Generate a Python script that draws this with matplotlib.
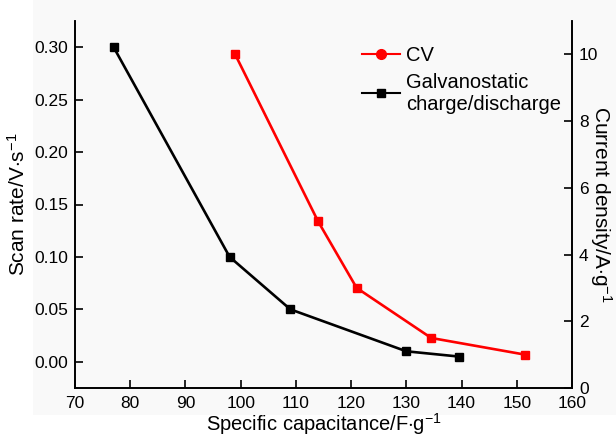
import matplotlib
matplotlib.use("Agg")
import matplotlib.pyplot as plt
from matplotlib.lines import Line2D
from matplotlib.patches import Rectangle

plt.rcParams['font.family'] = ['Liberation Sans', 'DejaVu Sans']
plt.rcParams['mathtext.fontset'] = 'custom'
plt.rcParams['mathtext.rm'] = 'Liberation Sans'
plt.rcParams['mathtext.it'] = 'Liberation Sans:italic'

# Data
gcd_capacitance = [77, 98, 109, 130, 139.5]
gcd_scan_axis_values = [0.30, 0.10, 0.05, 0.010, 0.005]  # plotted on left axis
cv_capacitance = [99, 114, 121, 134.5, 151.5]
cv_values = [10, 5, 3, 1.5, 1]  # plotted on right axis

x_ticks = [70, 80, 90, 100, 110, 120, 130, 140, 150, 160]
left_ticks = [0.00, 0.05, 0.10, 0.15, 0.20, 0.25, 0.30]
right_ticks = [0, 2, 4, 6, 8, 10]

fig = plt.figure(figsize=(6.16, 4.38), dpi=100, facecolor='white')
fig.patches.append(Rectangle((33/616, 1-415/438), 1-33/616, 415/438,
                             transform=fig.transFigure, facecolor='#f9f9f9',
                             edgecolor='none', zorder=-10))
ax = fig.add_axes([75/616, 1-388/438, (572-75)/616, (388-21)/438])
ax.set_facecolor('none')
ax2 = ax.twinx()

ax.plot(gcd_capacitance, gcd_scan_axis_values, color='black', lw=1.9,
        marker='s', ms=5.5, zorder=3)
ax2.plot(cv_capacitance, cv_values, color='#ff0000', lw=1.9,
         marker='s', ms=5.5, zorder=3)

ax.set_xlim(70, 160)
ax.set_ylim(-0.025, 0.325)
ax2.set_ylim(0, 11)
ax.set_xticks(x_ticks)
ax.set_yticks(left_ticks)
ax.set_yticklabels([f"{v:.2f}" for v in left_ticks])
ax2.set_yticks(right_ticks)

for a in (ax, ax2):
    a.spines['top'].set_visible(False)
    for s in a.spines.values():
        s.set_linewidth(1.2)
ax.tick_params(direction='in', length=6, width=1.2, labelsize=12.5, pad=5)
ax.tick_params(axis='x', pad=6)
ax2.tick_params(direction='in', length=6, width=1.2, labelsize=12.5, pad=5)

ax.set_xlabel(r'Specific capacitance/F$\cdot$g$^{-1}$', fontsize=14.5, labelpad=0)
ax.set_ylabel(r'Scan rate/V$\cdot$s$^{-1}$', fontsize=15, labelpad=4)
ax2.set_ylabel(r'Current density/A$\cdot$g$^{-1}$', fontsize=15, rotation=270, labelpad=11)

handles = [Line2D([], [], color='#ff0000', lw=1.5, marker='o', ms=7),
           Line2D([], [], color='black', lw=1.5, marker='s', ms=6)]
ax.legend(handles, ['CV', 'Galvanostatic\ncharge/discharge'], loc='upper left',
          bbox_to_anchor=(0.54, 0.98), frameon=False, fontsize=14.5,
          handlelength=1.9, handletextpad=0.3, labelspacing=0.35)

fig.savefig('out.png', dpi=100, facecolor=fig.get_facecolor())
